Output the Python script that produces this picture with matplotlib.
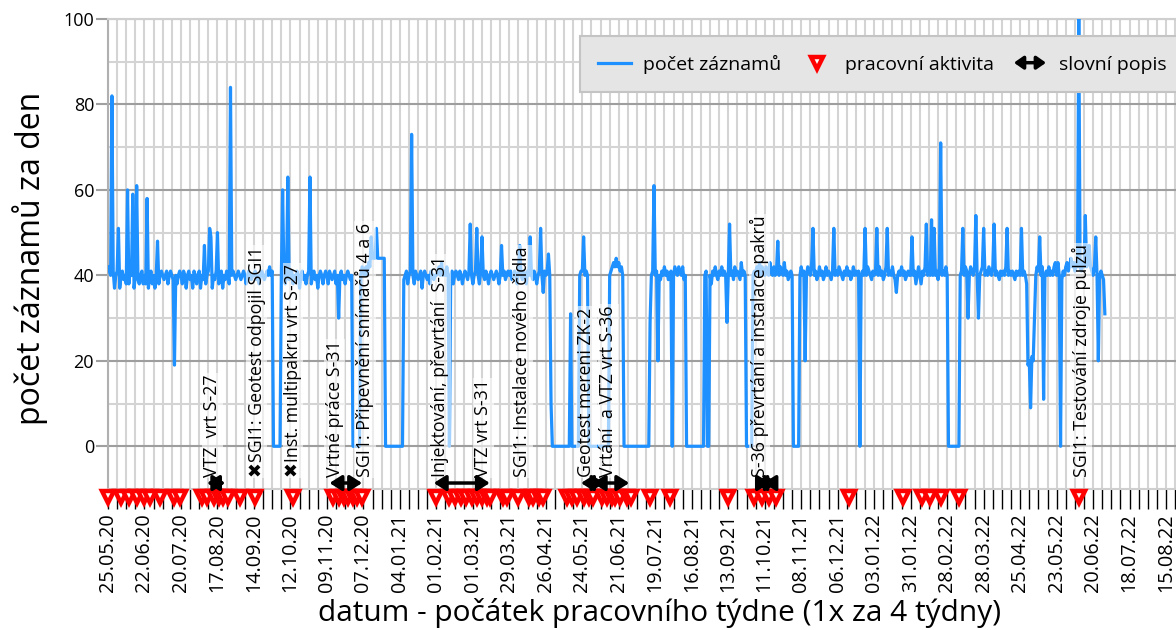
import matplotlib.pyplot as plt
import matplotlib.dates as mdates
import numpy as np
import pandas as pd
from matplotlib.patches import FancyArrowPatch
from matplotlib.legend_handler import HandlerBase

plt.rcParams["font.family"] = ["Open Sans", "DejaVu Sans"]

# denní počty záznamů od 25.05.20, jeden řádek = 4 týdny
start_date = "25.05.20"
counts_by_4weeks = [
    [42, 41, 40, 82, 41, 37, 40, 41, 51, 37, 40, 41, 39, 40, 38, 60, 38, 41, 40, 59, 37, 40, 61, 39, 38, 40, 41, 38],
    [40, 38, 58, 37, 40, 41, 38, 40, 37, 40, 48, 38, 40, 41, 40, 39, 40, 41, 38, 40, 41, 40, 39, 19, 40, 38, 40, 41],
    [40, 38, 41, 40, 37, 40, 41, 39, 40, 37, 41, 40, 38, 40, 41, 37, 40, 39, 47, 38, 40, 41, 51, 49, 37, 40, 39, 41],
    [50, 38, 40, 41, 37, 40, 39, 41, 40, 38, 84, 40, 41, 40, 39, 40, 41, 40, 39, 40, 41, 40, 38, 40, 41, 40, 39, 40],
    [40, 41, 39, 40, 38, 40, 41, 40, 39, 40, 41, 40, 42, 40, 41, 0, 0, 0, 0, 0, 0, 39, 60, 40, 38, 40, 63, 39],
    [40, 41, 38, 40, 39, 41, 40, 37, 40, 41, 39, 40, 38, 40, 41, 63, 38, 40, 41, 39, 40, 37, 40, 41, 40, 38, 40, 41],
    [40, 38, 41, 40, 39, 40, 41, 38, 40, 30, 40, 41, 39, 40, 38, 40, 41, 40, 39, 40, 0, 0, 0, 0, 0, 0, 40, 42],
    [41, 40, 42, 40, 43, 42, 49, 44, 44, 44, 51, 44, 44, 44, 44, 44, 44, 0, 0, 0, 0, 0, 0, 0, 0, 0, 0, 0],
    [0, 0, 0, 39, 40, 41, 38, 40, 41, 73, 40, 38, 41, 40, 39, 40, 41, 37, 40, 41, 40, 39, 40, 38, 41, 40, 39, 40],
    [40, 41, 42, 40, 43, 40, 41, 40, 42, 40, 0, 40, 41, 38, 40, 41, 40, 39, 41, 40, 38, 40, 41, 40, 39, 41, 52, 40],
    [38, 40, 41, 51, 40, 38, 41, 49, 40, 39, 41, 40, 38, 40, 41, 40, 39, 40, 41, 40, 38, 40, 47, 40, 41, 39, 40, 41],
    [40, 41, 39, 40, 41, 40, 38, 41, 47, 40, 39, 41, 40, 38, 41, 40, 49, 40, 39, 41, 40, 38, 40, 41, 51, 40, 36, 41],
    [40, 41, 45, 40, 10, 0, 0, 0, 0, 0, 0, 0, 0, 0, 0, 0, 0, 0, 0, 31, 0, 0, 0, 0, 0, 0, 40, 41],
    [41, 49, 40, 41, 40, 0, 0, 0, 0, 0, 0, 0, 0, 0, 0, 0, 0, 0, 0, 0, 0, 40, 41, 42, 43, 42, 44, 42],
    [43, 41, 42, 40, 0, 0, 0, 0, 0, 0, 0, 0, 0, 0, 0, 0, 0, 0, 0, 0, 0, 0, 0, 0, 29, 40, 41, 61],
    [40, 41, 20, 40, 39, 41, 40, 42, 40, 41, 39, 40, 41, 0, 40, 42, 41, 40, 42, 41, 40, 42, 39, 40, 0, 0, 0, 0],
    [0, 0, 0, 0, 0, 0, 0, 0, 0, 0, 40, 41, 0, 0, 40, 38, 41, 40, 42, 40, 39, 41, 40, 42, 40, 41, 40, 29],
    [40, 52, 40, 41, 39, 42, 40, 41, 40, 39, 43, 40, 41, 40, 0, 0, 0, 0, 0, 40, 41, 40, 42, 41, 43, 40, 42, 41],
    [40, 42, 41, 40, 43, 41, 40, 42, 40, 41, 48, 40, 42, 41, 40, 43, 40, 41, 39, 40, 41, 40, 0, 0, 0, 0, 0, 40],
    [42, 40, 41, 20, 40, 42, 41, 40, 43, 51, 40, 41, 39, 40, 42, 40, 41, 39, 40, 42, 40, 41, 40, 39, 41, 51, 40, 41],
    [40, 42, 41, 40, 39, 41, 40, 42, 40, 41, 39, 40, 42, 40, 41, 40, 41, 0, 40, 41, 40, 51, 40, 42, 41, 40, 39, 41],
    [40, 41, 51, 40, 42, 40, 41, 39, 40, 42, 51, 40, 41, 40, 42, 40, 39, 36, 40, 41, 40, 42, 40, 41, 39, 40, 41, 40],
    [40, 49, 40, 41, 38, 40, 42, 40, 38, 41, 40, 42, 52, 40, 41, 40, 53, 40, 51, 40, 41, 39, 42, 71, 40, 41, 40, 42],
    [40, 0, 0, 0, 0, 0, 0, 0, 0, 0, 40, 41, 51, 40, 42, 41, 30, 40, 42, 41, 40, 42, 54, 40, 30, 40, 41, 42],
    [51, 40, 41, 40, 42, 41, 40, 42, 52, 40, 41, 40, 39, 41, 40, 41, 40, 42, 51, 40, 41, 40, 41, 40, 39, 41, 40, 41],
    [40, 51, 40, 41, 40, 38, 19, 20, 9, 21, 20, 30, 40, 42, 41, 49, 40, 42, 11, 40, 41, 40, 42, 40, 41, 40, 42, 43],
    [40, 43, 40, 0, 39, 41, 40, 42, 43, 41, 42, 44, 42, 43, 41, 43, 42, 100, 42, 41, 43, 42, 54, 42, 43, 47, 42, 41],
    [40, 42, 49, 40, 20, 40, 41, 40, 39, 31],
]

# dny s pracovní aktivitou
activity_dates = [
    "25.05.20", "04.06.20", "10.06.20", "16.06.20", "22.06.20", "26.06.20", "04.07.20",
    "15.07.20", "19.07.20", "05.08.20", "09.08.20", "14.08.20", "18.08.20", "21.08.20",
    "25.08.20", "03.09.20", "15.09.20", "14.10.20", "14.11.20", "18.11.20", "22.11.20",
    "25.11.20", "29.11.20", "02.12.20", "06.12.20", "01.02.21", "11.02.21", "15.02.21",
    "20.02.21", "24.02.21", "28.02.21", "04.03.21", "08.03.21", "12.03.21", "14.03.21",
    "24.03.21", "27.03.21", "05.04.21", "13.04.21", "16.04.21", "21.04.21", "24.04.21",
    "12.05.21", "16.05.21", "20.05.21", "25.05.21", "29.05.21", "01.06.21", "08.06.21",
    "12.06.21", "16.06.21", "18.06.21", "22.06.21", "27.06.21", "30.06.21", "15.07.21",
    "30.07.21", "13.09.21", "03.10.21", "09.10.21", "14.10.21", "20.10.21", "15.12.21",
    "25.01.22", "09.02.22", "15.02.22", "23.02.22", "09.03.22", "09.06.22",
]

# slovní popis událostí
note_texts = [
    "VTZ  vrt S-27",
    "\u2716SGI1: Geotest odpojil SGI1",
    "\u2716Inst. multipakru vrt S-27",
    "Vrtné práce S-31",
    "SGI1: Připevnění snímačů 4 a 6",
    "Injektování, převrtání  S-31",
    "VTZ vrt S-31",
    "SGI1: Instalace nového čidla",
    "Geotest mereni ZK-2",
    "Vrtání  a VTZ vrt S-36",
    "S-36 převrtání a instalace pakrů",
    "SGI1: Testování zdroje pulzů",
]
note_dates = [
    "13.08.20", "16.09.20", "14.10.20", "15.11.20", "08.12.20", "04.02.21",
    "09.03.21", "08.04.21", "27.05.21", "13.06.21", "07.10.21", "11.06.22",
]

# trvání popsaných prací
arrow_starts = ["09.08.20", "11.11.20", "30.01.21", "23.05.21", "01.06.21", "03.10.21", "10.10.21"]
arrow_ends = ["23.08.20", "06.12.20", "14.03.21", "10.06.21", "29.06.21", "15.10.21", "21.10.21"]

last_tick = "15.08.22"


def to_date(s):
    return pd.to_datetime(s, format="%d.%m.%y")


class DoubleArrowHandler(HandlerBase):
    """Legenda: oboustranná šipka."""

    def create_artists(self, legend, orig_handle, xdescent, ydescent, width, height, fontsize, trans):
        y = height / 2 - ydescent
        arr = FancyArrowPatch((-xdescent, y), (width - xdescent, y),
                              arrowstyle="<|-|>,head_length=0.5,head_width=0.35",
                              mutation_scale=11, lw=2.5, color="black",
                              shrinkA=0, shrinkB=0, transform=trans)
        return [arr]


counts = np.concatenate([np.array(r, dtype=float) for r in counts_by_4weeks])
days = pd.date_range(to_date(start_date), periods=len(counts), freq="D")
activity = pd.to_datetime(activity_dates, format="%d.%m.%y")

W, H = 1176, 630
fig = plt.figure(figsize=(W / 100, H / 100), dpi=100)
ax = fig.add_axes([108 / W, 1 - 489 / H, 1 - 108 / W, (489 - 19) / H])

line, = ax.plot(days, counts, color="#1e90ff", lw=2.3, zorder=3)

tri, = ax.plot(activity, np.full(len(activity), -11.8), ls="none", marker="v",
               ms=9, mfc="white", mec="red", mew=3.2, clip_on=False, zorder=6)

for s, e in zip(arrow_starts, arrow_ends):
    ax.annotate("", xy=(mdates.date2num(to_date(e)), -8.6),
                xytext=(mdates.date2num(to_date(s)), -8.6),
                arrowprops=dict(arrowstyle="<|-|>,head_length=0.6,head_width=0.38",
                                mutation_scale=12, lw=2.5, color="black",
                                shrinkA=0, shrinkB=0),
                annotation_clip=False, zorder=7)

for txt, d in zip(note_texts, note_dates):
    ax.text(to_date(d), -7.2, txt, rotation=90, ha="center", va="bottom",
            fontsize=12.8, zorder=4,
            bbox=dict(facecolor="white", alpha=0.6, edgecolor="none", pad=1))

# osy a mřížka
x0 = to_date(start_date)
major = pd.date_range(x0, to_date(last_tick), freq="28D")
minor = pd.date_range(x0, x0 + pd.Timedelta(days=820), freq="7D")
ax.set_xlim(x0, x0 + pd.Timedelta(days=819.6))
ax.set_xticks(major)
ax.set_xticklabels([d.strftime("%d.%m.%y") for d in major])
ax.set_xticks(minor, minor=True)
ax.tick_params(axis="x", which="both", direction="out", length=14.5, width=1,
               color="black")
ax.tick_params(axis="x", which="major", labelsize=14.3, rotation=90, pad=3)

ax.set_ylim(-10, 100)
ax.set_yticks([0, 20, 40, 60, 80, 100])
ax.set_yticks([10, 30, 50, 70, 90], minor=True)
ax.tick_params(axis="y", which="major", length=9, width=1.5, color="#a0a0a0",
               labelsize=13, pad=1)
ax.tick_params(axis="y", which="minor", length=0)

ax.grid(axis="x", which="both", color="#d4d4d4", lw=1.5, zorder=0)
ax.grid(axis="y", which="major", color="#9e9e9e", lw=1.5, zorder=0)
ax.grid(axis="y", which="minor", color="#d4d4d4", lw=1.5, zorder=0)
ax.set_axisbelow(True)
for side in ["top", "bottom"]:
    ax.spines[side].set_color("#cfcfcf")
    ax.spines[side].set_linewidth(1.5)
ax.spines["left"].set_color("#b0b0b0")
ax.spines["left"].set_linewidth(1.5)
ax.spines["right"].set_visible(False)

arrow_proxy = FancyArrowPatch((0, 0), (1, 0))
leg = ax.legend([line, tri, arrow_proxy],
                ["počet záznamů", "pracovní aktivita", "slovní popis"],
                handler_map={FancyArrowPatch: DoubleArrowHandler()},
                loc="upper left", bbox_to_anchor=(580 / W, 1 - 36 / H),
                bbox_transform=fig.transFigure, ncol=3, fontsize=14,
                frameon=True, fancybox=False, facecolor="#e5e5e5",
                edgecolor="#c4c4c4", framealpha=1, borderpad=0.95,
                handlelength=1.65, handletextpad=0.65, columnspacing=1.0,
                borderaxespad=0)
leg.get_frame().set_linewidth(1.5)
leg.set_zorder(10)

fig.text(30 / W, 1 - 258 / H, "počet záznamů za den", rotation=90,
         ha="center", va="center", fontsize=23)
fig.text(660 / W, 1 - 613 / H, "datum - počátek pracovního týdne (1x za 4 týdny)",
         ha="center", va="center", fontsize=21.5)

fig.savefig("out.png", dpi=100)
